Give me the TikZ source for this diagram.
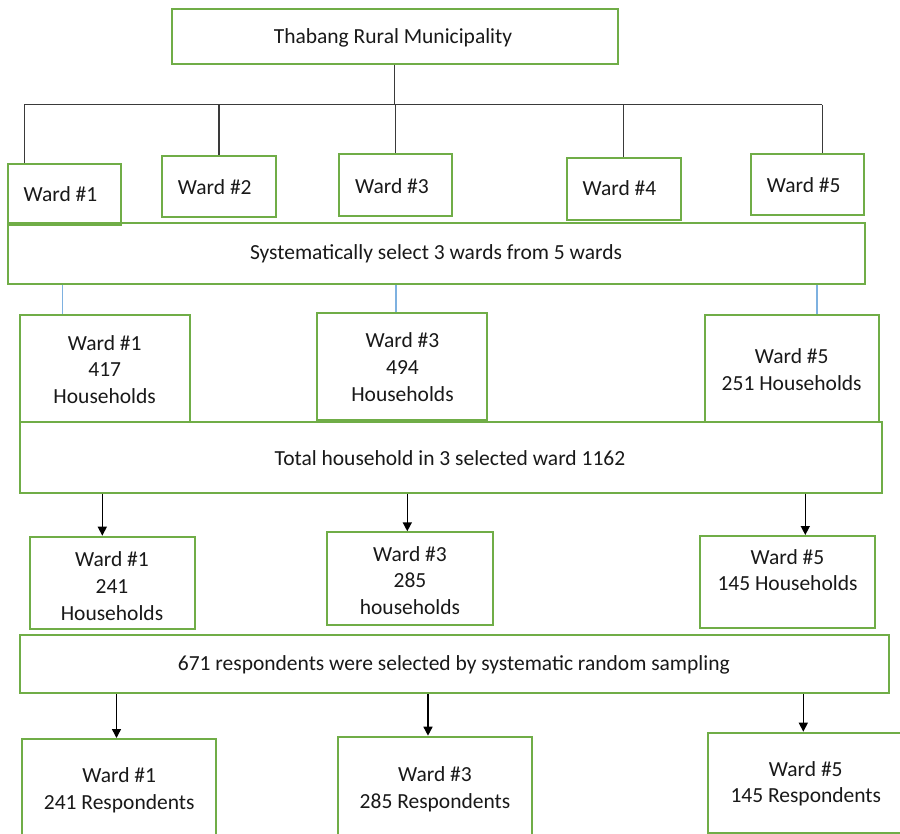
\documentclass[tikz,border=0pt]{standalone}
\usepackage{fontspec}
\setmainfont{Carlito}
\usetikzlibrary{arrows.meta}
\definecolor{boxgreen}{HTML}{70AD47}
\definecolor{linkblue}{HTML}{7EB1E0}
\definecolor{treegray}{HTML}{3A3A3A}
\newcommand\gbox[5]{\node[gbox, minimum width={(#4)-(#2)}, minimum height={(#5)-(#3)}] (#1) at ({((#2)+(#4))/2},{((#3)+(#5))/2}) {};}
\begin{document}
\begin{tikzpicture}[x=1pt,y=-1pt,
  gbox/.style={draw=boxgreen, line width=2pt, rectangle, inner sep=0pt, fill=none},
  txt/.style={font=\fontsize{21.5}{26.7}\selectfont, align=center, inner sep=0pt, text=black!90},
  tree/.style={draw=treegray, line width=1.1pt},
  link/.style={draw=linkblue, line width=1.1pt},
  arr/.style={draw=black, line width=1.5pt, -{Triangle[length=9pt,width=9pt]}}]
\useasboundingbox (0,0) rectangle (900,834);
\fill[white] (0,0) rectangle (900,834);
\begin{scope}
\clip (0,0) rectangle (900,834);
% top
\gbox{top}{172}{9.3}{617.7}{64}
\node[txt] (topt) at (393,37.5) {Thabang Rural Municipality};
% first row wards
\gbox{wa1}{7.7}{163.7}{121.3}{225}
\gbox{wa2}{162.3}{155.7}{275.7}{217.3}
\gbox{wa3}{339}{154.3}{452}{216.3}
\gbox{wa4}{566.7}{157.7}{680.7}{219.7}
\gbox{wa5}{750.7}{153.7}{864.3}{215.3}
\node[txt] (wa1t) at (60.5,194.5) {Ward \#1};
\node[txt] (wa2t) at (214.8,186.7) {Ward \#2};
\node[txt] (wa3t) at (392,186) {Ward \#3};
\node[txt] (wa4t) at (619.5,188.5) {Ward \#4};
\node[txt] (wa5t) at (803.7,185) {Ward \#5};
% systematic
\gbox{sys}{7.7}{223.3}{865}{283.7}
\node[txt] (syst) at (436,253.5) {Systematically select 3 wards from 5 wards};
% second row
\gbox{wb1}{20}{315}{190}{421.7}
\gbox{wb3}{317.3}{313}{487.3}{420}
\gbox{wb5}{705}{315}{879}{421.7}
\node[txt] (wb1t) at (104.7,369.5) {Ward \#1\\417\\Households};
\node[txt] (wb3t) at (402.5,367) {Ward \#3\\494\\Households};
\node[txt] (wb5t) at (791.7,369.5) {Ward \#5\\251 Households};
% total
\gbox{tot}{20}{422.3}{881.7}{492.7}
\node[txt] (tott) at (450,458) {Total household in 3 selected ward 1162};
% third row
\gbox{wc1}{30}{536.7}{195.3}{629.3}
\gbox{wc3}{326.7}{532.3}{492.7}{625}
\gbox{wc5}{700}{536}{875.3}{628.3}
\node[txt] (wc1t) at (112,586) {Ward \#1\\241\\Households};
\node[txt] (wc3t) at (410,580.5) {Ward \#3\\285\\households};
\node[txt] (wc5t) at (787.5,570) {Ward \#5\\145 Households};
% respondents box
\gbox{resp}{20}{635}{889.3}{693.3}
\node[txt] (respt) at (453.8,665) {671 respondents were selected by systematic random sampling};
% fourth row
\gbox{wd1}{22.3}{739}{216}{870}
\gbox{wd3}{337.7}{736.7}{532}{870}
\gbox{wd5}{708.3}{732.7}{915}{832.7}
\node[txt] (wd1t) at (119.2,790.5) {Ward \#1\\241 Respondents};
\node[txt] (wd3t) at (435,789) {Ward \#3\\285 Respondents};
\node[txt] (wd5t) at (805.8,783.7) {Ward \#5\\145 Respondents};
% tree connectors
\coordinate (busL) at (24.3,104.7);
\coordinate (busR) at (822.3,104.7);
\draw[tree] (top.south) -- (top.south |- busL);
\draw[tree] (busL) -- (busR);
\draw[tree] (busL) -- (busL |- wa1.north);
\draw[tree] (wa2.north |- busL) -- (wa2.north);
\draw[tree] (wa3.north |- busL) -- (wa3.north);
\draw[tree] (wa4.north |- busL) -- (wa4.north);
\draw[tree] (busR) -- (busR |- wa5.north);
% light blue links
\coordinate (l1) at (62.3,0);
\coordinate (l3) at (396,0);
\coordinate (l5) at (817,0);
\draw[link] (sys.south -| l1) -- (l1 |- wb1.north);
\draw[link] (sys.south -| l3) -- (l3 |- wb3.north);
\draw[link] (sys.south -| l5) -- (l5 |- wb5.north);
% arrows row 2 -> row 3
\coordinate (a1) at (102.3,0);
\coordinate (a3) at (407.3,0);
\coordinate (a5) at (805.3,0);
\draw[arr] (tot.south -| a1) -- (a1 |- wc1.north);
\draw[arr] (tot.south -| a3) -- (a3 |- wc3.north);
\draw[arr] (tot.south -| a5) -- (a5 |- wc5.north);
% arrows row 3 -> row 4
\coordinate (b1) at (116.5,0);
\coordinate (b3) at (428,0);
\coordinate (b5) at (803.3,0);
\draw[arr] (resp.south -| b1) -- (b1 |- wd1.north);
\draw[arr] (resp.south -| b3) -- (b3 |- wd3.north);
\draw[arr] (resp.south -| b5) -- (b5 |- wd5.north);
\end{scope}
\end{tikzpicture}
\end{document}
